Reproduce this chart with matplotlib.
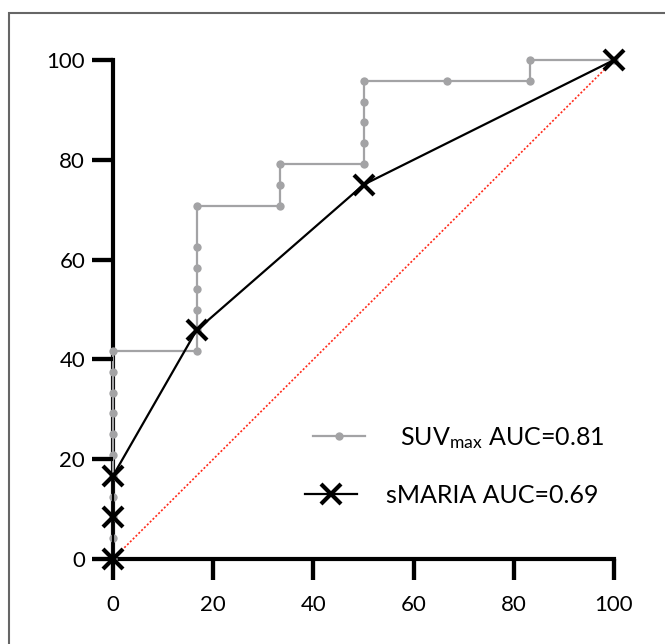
import matplotlib
matplotlib.use("Agg")
import matplotlib.pyplot as plt
from matplotlib.patches import Rectangle

# Data (percent): 1 - specificity (x), sensitivity (y)
suv_x = [0, 0, 0, 0, 0, 0, 0, 0, 0, 0, 0,
         16.67, 16.67, 16.67, 16.67, 16.67, 16.67, 16.67,
         33.33, 33.33, 33.33,
         50, 50, 50, 50, 50,
         66.67, 83.33, 83.33, 100]
suv_y = [0, 4.17, 8.33, 12.5, 16.67, 20.83, 25, 29.17, 33.33, 37.5, 41.67,
         41.67, 45.83, 50, 54.17, 58.33, 62.5, 70.83,
         70.83, 75, 79.17,
         79.17, 83.33, 87.5, 91.67, 95.83,
         95.83, 95.83, 100, 100]
smaria_x = [0, 0, 0, 16.67, 50, 100]
smaria_y = [0, 8.33, 16.67, 45.83, 75, 100]
ref_x = [0, 100]
ref_y = [0, 100]
ticks = [0, 20, 40, 60, 80, 100]
labels = [" SUV$_{\\mathregular{max}}$ AUC=0.81", "sMARIA AUC=0.69"]

plt.rcParams['font.family'] = ['Lato', 'DejaVu Sans']
plt.rcParams['mathtext.default'] = 'regular'

fig = plt.figure(figsize=(6.65, 6.44), dpi=100)
ax = fig.add_axes([113 / 665, (644 - 559) / 644, 501 / 665, 499 / 644])

grey = '#a3a3a5'
ax.plot(ref_x, ref_y, color='#ff2a1a', linestyle=(0, (1.2, 1.2)), linewidth=1.2, zorder=2)
l1, = ax.plot(suv_x, suv_y, color=grey, linewidth=1.6, marker='o', markersize=6,
              markeredgewidth=0, clip_on=False, zorder=3)
l2, = ax.plot(smaria_x, smaria_y, color='black', linewidth=1.6, marker='x', markersize=15,
              markeredgewidth=3, clip_on=False, zorder=4)

ax.set_xlim(0, 100)
ax.set_ylim(0, 100)
ax.set_xticks(ticks)
ax.set_yticks(ticks)
for s in ['top', 'right']:
    ax.spines[s].set_visible(False)
for s in ['left', 'bottom']:
    ax.spines[s].set_linewidth(3)
ax.tick_params(axis='both', which='major', length=15, width=3, color='black',
               labelsize=16, direction='out')
ax.tick_params(axis='x', pad=11)
ax.tick_params(axis='y', pad=5)

# explicit tick marks at the axis tick positions
ax.plot(ticks, [0] * len(ticks), linestyle='none', marker=3, markersize=15,
        markeredgewidth=3, color='black', clip_on=False, zorder=5,
        transform=ax.get_xaxis_transform())
ax.hlines(ticks, -21 / 501, 0, colors='black', linewidth=3, clip_on=False, zorder=5,
          transform=ax.get_yaxis_transform())

leg_kw = dict(frameon=False, fontsize=18, handlelength=2.1, handletextpad=1.15,
              borderpad=0, borderaxespad=0, loc='center left')
leg1 = ax.legend([l1], [labels[0]], bbox_to_anchor=(0.399, 0.243), **leg_kw)
ax.add_artist(leg1)
leg2 = ax.legend([l2], [labels[1]], bbox_to_anchor=(0.383, 0.128), **leg_kw)

border = Rectangle((9 / 665, -0.1), 1.2, (644 - 13) / 644 + 0.1,
                   transform=fig.transFigure, fill=False,
                   edgecolor='#666666', linewidth=1.5)
fig.add_artist(border)

fig.savefig('out.png', dpi=100)
